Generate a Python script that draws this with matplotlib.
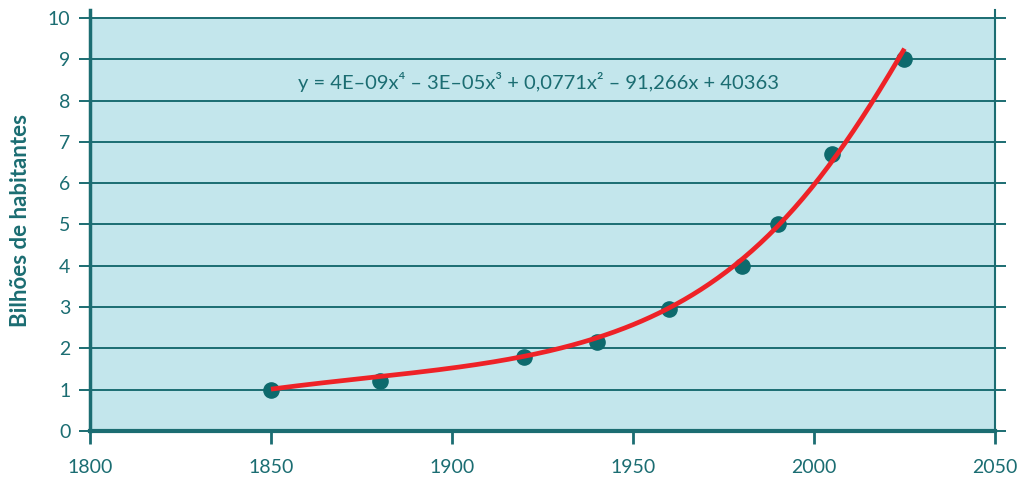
import numpy as np
import matplotlib.pyplot as plt

plt.rcParams['font.family'] = ['Lato', 'DejaVu Sans']

# population (billions) by year
years = [1850, 1880, 1920, 1940, 1960, 1980, 1990, 2005, 2025]
population = [1.0, 1.2, 1.8, 2.15, 2.95, 4.0, 5.0, 6.7, 9.0]

# trend line as drawn in the picture
trend_years = [1850, 1880, 1900, 1920, 1940, 1960, 1970, 1980, 1990, 2004, 2015, 2025]
trend_values = [1.02, 1.29, 1.53, 1.85, 2.29, 2.95, 3.42, 4.05, 4.99, 6.64, 7.9, 9.08]

equation = 'y = 4E–09x⁴ – 3E–05x³ + 0,0771x² – 91,266x + 40363'

teal = '#1b6d72'
bg = '#c3e6ec'
red = '#ee2227'

fig = plt.figure(figsize=(10.21, 4.79), dpi=100)
ax = fig.add_axes([0.0881, 0.1002, 0.8864, 0.8795])
ax.set_facecolor('white')

ax.set_xlim(1800, 2050)
ax.set_ylim(0, 10.2)
ax.axhspan(0, 10, color=bg, zorder=0)

for v in range(1, 11):
    ax.axhline(v, color=teal, lw=1.4, zorder=1)

# smooth trend through the curve readings (quartic fit on log scale)
tx = (np.array(trend_years) - 1940.0) / 100
coef = np.polyfit(tx, np.log(trend_values), 4)
xs = np.linspace(1850, 2025, 300)
ax.plot(xs, np.exp(np.polyval(coef, (xs - 1940) / 100)), color=red, lw=3.4,
        zorder=3, solid_capstyle='butt')
ax.scatter(years, population, s=120, color='#0d6a6d', zorder=2)

ax.text(1924, 8.45, equation, color=teal, fontsize=14.5, ha='center', va='center')

ax.set_xticks(range(1800, 2051, 50))
ax.set_yticks(range(0, 11))
ax.tick_params(axis='both', colors=teal, labelcolor=teal, labelsize=14,
               direction='out', length=9, width=2)
ax.tick_params(axis='y', right=True, width=1.4, length=8, pad=6)
ax.tick_params(axis='x', pad=11)

ax.spines['top'].set_visible(False)
for side in ['left', 'right', 'bottom']:
    ax.spines[side].set_color(teal)
ax.spines['left'].set_linewidth(2.5)
ax.spines['bottom'].set_linewidth(3)
ax.spines['right'].set_linewidth(1.5)

ax.set_ylabel('Bilhões de habitantes', color=teal, fontsize=16,
              fontweight='bold', labelpad=12)

fig.savefig('out.png', dpi=100)
